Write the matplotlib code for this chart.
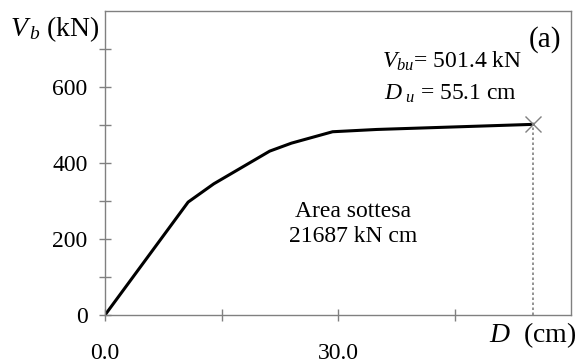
import matplotlib
matplotlib.use("Agg")
from matplotlib import pyplot as plt

# pushover curve
d_cm = [0.0, 10.7, 14.0, 21.2, 24.0, 29.3, 35.0, 55.1]
vb_kn = [0.0, 297, 345, 431, 452, 482, 488, 501.4]
d_u = 55.1
v_bu = 501.4

x_major = [0, 30]
x_major_labels = ["0.0", "30.0"]
x_minor = [15, 45]
y_major = [0, 200, 400, 600]
y_minor = [100, 300, 500, 700]

plt.rcParams['font.family'] = ['Liberation Serif', 'DejaVu Serif']
plt.rcParams['mathtext.fontset'] = 'custom'
plt.rcParams['mathtext.rm'] = 'Liberation Serif'
plt.rcParams['mathtext.it'] = 'Liberation Serif:italic'

fs = 17
grey = '#808080'

fig = plt.figure(figsize=(5.78, 3.61), dpi=100)
ax = fig.add_axes([0.1817, 0.1274, 0.8063, 0.8426])

ax.plot(d_cm, vb_kn, color='black', lw=2.2, solid_joinstyle='round')
ax.plot([d_u], [v_bu], marker='x', ms=12, mew=1.0, color=grey, ls='none')
ax.plot([d_u, d_u], [0, v_bu], color=grey, lw=1.2, ls=(0, (1.5, 1.5)))

ax.set_xlim(0, 60)
ax.set_ylim(0, 800)

ax.set_xticks(x_major)
ax.set_xticklabels(x_major_labels)
ax.set_xticks(x_minor, minor=True)
ax.set_yticks(y_major)
ax.set_yticks(y_minor, minor=True)

ax.tick_params(axis='both', which='both', direction='inout', color=grey,
               width=1.0, length=9, labelsize=fs)
ax.tick_params(axis='x', which='major', pad=16)
ax.tick_params(axis='y', which='major', pad=8)

for s in ax.spines.values():
    s.set_color(grey)
    s.set_linewidth(1.0)

# axis titles placed like the original
fig.text(100 / 578, 1 - 29 / 361, r'$V_{\,b}$ (kN)', ha='right', va='center', fontsize=20)
fig.text(576 / 578, 1 - 335 / 361, r'$D$  (cm)', ha='right', va='center', fontsize=20)

ax.text(31.9, 239, 'Area sottesa\n21687 kN cm', ha='center', va='center',
        fontsize=fs, linespacing=1.25)
ax.text(35.7, 668, r'$V_{bu}$= 501.4 kN', ha='left', va='center', fontsize=fs)
ax.text(35.9, 581, r'$D_{\ u}$ = 55.1 cm', ha='left', va='center', fontsize=fs)
ax.text(56.6, 724, '(a)', ha='center', va='center', fontsize=21)

fig.savefig('out.png', dpi=100)
